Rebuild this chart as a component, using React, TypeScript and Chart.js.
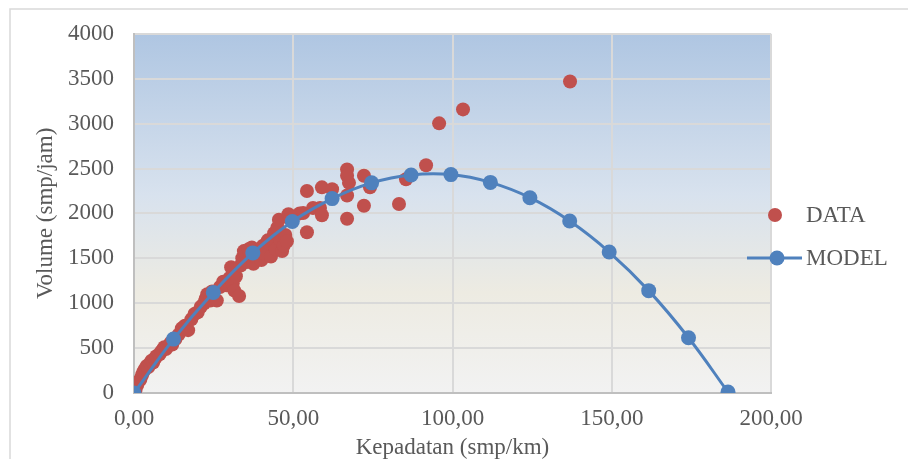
import React, { useEffect, useRef } from "react";
import { Chart, registerables } from "chart.js";

Chart.register(...registerables);

const dataX = [
  0.5, 1, 1.5, 2, 2.5, 3, 3.5, 4, 4.5, 5, 5.5, 6, 6.5, 7, 8, 8.5, 9, 9.5, 10, 11, 11.5, 12, 13,
  14, 15, 16, 17, 18, 19, 20, 21, 22, 22.5, 23, 24, 24.5, 26,
  27, 28, 29, 30, 30.5, 31, 31.5, 32, 33, 33.5, 34, 34.5, 35, 35.5, 36, 37, 37.5, 38,
  39, 40, 40.5, 41, 42, 42.7, 43, 44, 44.5, 45, 45.5, 46, 46.5, 47, 47.5, 48, 48.5, 49,
  52, 53.1, 54.3, 54.3, 56.2, 58.4, 59, 59, 62.2, 66.9, 66.9, 67.5, 66.9, 66.9, 72.2, 72.2, 74.1,
  83.2, 85.4, 91.7, 95.8, 103.3, 136.9,
];
const dataY = [
  40, 90, 130, 150, 200, 240, 270, 300, 290, 330, 360, 340, 380, 410, 430, 460, 480, 510, 490, 530, 560, 540, 600,
  650, 720, 750, 700, 820, 880, 900, 960, 1000, 1050, 1100, 1030, 1130, 1030,
  1180, 1240, 1200, 1280, 1400, 1220, 1140, 1300, 1080, 1420, 1500, 1580, 1550, 1460, 1600, 1620, 1440, 1520,
  1580, 1480, 1640, 1550, 1700, 1660, 1520, 1780, 1600, 1840, 1930, 1700, 1580, 1640, 1760, 1690, 1990, 1940,
  2000, 2005, 2250, 1790, 2060, 2060, 2290, 1980, 2270, 2490, 2420, 2340, 2200, 1940, 2420, 2085, 2290,
  2105, 2380, 2537, 3003, 3158, 3468,
];

const modelX = [0, 12.4, 24.9, 37.3, 49.7, 62.2, 74.6, 87.0, 99.5, 111.9, 124.3, 136.8, 149.2, 161.6, 174.1, 186.5];
const modelY = [0, 600, 1120, 1560, 1910, 2165, 2340, 2428, 2432, 2345, 2175, 1915, 1570, 1140, 615, 10];

const xTicks = [0, 50, 100, 150, 200];
const yTicks = [0, 500, 1000, 1500, 2000, 2500, 3000, 3500, 4000];

const RED = "#C0504D";
const BLUE = "#4F81BD";
const TEXT = "#595959";
const FONT = "'Liberation Serif', 'Times New Roman', serif";

export default function App() {
  const ref = useRef<HTMLCanvasElement>(null);

  useEffect(() => {
    if (!ref.current) return;

    const bgPlugin = {
      id: "bgPlugin",
      beforeDraw(chart: any) {
        const { ctx, chartArea } = chart;
        ctx.save();
        ctx.fillStyle = "#FFFFFF";
        ctx.fillRect(0, 0, chart.width, chart.height);
        ctx.strokeStyle = "#D9D9D9";
        ctx.lineWidth = 1.5;
        ctx.strokeRect(10, 9, 1000, 1000);
        const g = ctx.createLinearGradient(0, chartArea.top, 0, chartArea.bottom);
        g.addColorStop(0, "#AFC6E2");
        g.addColorStop(0.45, "#D8E2EE");
        g.addColorStop(0.72, "#EDEBE2");
        g.addColorStop(1, "#F2F2F2");
        ctx.fillStyle = g;
        ctx.fillRect(chartArea.left, chartArea.top, chartArea.right - chartArea.left, chartArea.bottom - chartArea.top);
        ctx.restore();
      },
      afterDraw(chart: any) {
        const { ctx } = chart;
        ctx.save();
        ctx.font = `23px ${FONT}`;
        ctx.textBaseline = "middle";
        ctx.textAlign = "left";
        // DATA
        ctx.beginPath();
        ctx.fillStyle = RED;
        ctx.arc(775, 215, 7, 0, Math.PI * 2);
        ctx.fill();
        ctx.fillStyle = TEXT;
        ctx.fillText(chart.data.datasets[0].label, 806, 216);
        // MODEL
        ctx.strokeStyle = BLUE;
        ctx.lineWidth = 3;
        ctx.beginPath();
        ctx.moveTo(747, 258);
        ctx.lineTo(802, 258);
        ctx.stroke();
        ctx.beginPath();
        ctx.fillStyle = BLUE;
        ctx.arc(777, 258, 7.5, 0, Math.PI * 2);
        ctx.fill();
        ctx.fillStyle = TEXT;
        ctx.fillText(chart.data.datasets[1].label, 806, 259);
        ctx.restore();
      },
    };

    const chart = new Chart(ref.current, {
      type: "scatter",
      data: {
        datasets: [
          {
            label: "DATA",
            data: dataX.map((x, i) => ({ x, y: dataY[i] })),
            backgroundColor: RED,
            borderWidth: 0,
            pointRadius: 7,
            order: 2,
          },
          {
            label: "MODEL",
            data: modelX.map((x, i) => ({ x, y: modelY[i] })),
            backgroundColor: BLUE,
            borderColor: BLUE,
            borderWidth: 3,
            pointRadius: 7.5,
            pointBorderWidth: 0,
            showLine: true,
            tension: 0.4,
            order: 1,
          } as any,
        ],
      },
      options: {
        responsive: false,
        animation: false,
        layout: { padding: { left: 0, top: 32, right: 137, bottom: 0 } },
        plugins: {
          legend: { display: false },
          tooltip: { enabled: false },
        },
        scales: {
          x: {
            type: "linear",
            min: 0,
            max: 200,
            afterBuildTicks: (axis: any) => {
              axis.ticks = xTicks.map((v) => ({ value: v }));
            },
            afterFit: (axis: any) => {
              axis.height = 66;
            },
            ticks: {
              color: TEXT,
              font: { family: FONT, size: 23 },
              padding: 12,
              maxRotation: 0,
              callback: (v: any) => Number(v).toFixed(2).replace(".", ","),
            },
            grid: { color: "#D9D9D9", lineWidth: 2, drawTicks: false },
            border: { color: "#BFBFBF", width: 2 },
            title: {
              display: true,
              text: "Kepadatan (smp/km)",
              color: TEXT,
              font: { family: FONT, size: 23, lineHeight: 1 },
              padding: { top: 0, bottom: 0 },
            },
          },
          y: {
            type: "linear",
            min: 0,
            max: 4000,
            afterBuildTicks: (axis: any) => {
              axis.ticks = yTicks.map((v) => ({ value: v }));
            },
            afterFit: (axis: any) => {
              axis.width = 134;
            },
            ticks: {
              color: TEXT,
              font: { family: FONT, size: 23 },
              padding: 20,
              callback: (v: any) => String(v),
            },
            grid: { color: "#D9D9D9", lineWidth: 2, drawTicks: false },
            border: { color: "#BFBFBF", width: 2 },
            title: {
              display: true,
              text: "Volume (smp/jam)",
              color: TEXT,
              font: { family: FONT, size: 23, lineHeight: 1 },
              padding: { top: 34, bottom: 0 },
            },
          },
        },
      },
      plugins: [bgPlugin],
    });

    return () => chart.destroy();
  }, []);

  return (
    <canvas
      ref={ref}
      width={908}
      height={459}
      style={{ position: "fixed", left: 0, top: 0, width: 908, height: 459 }}
    />
  );
}
